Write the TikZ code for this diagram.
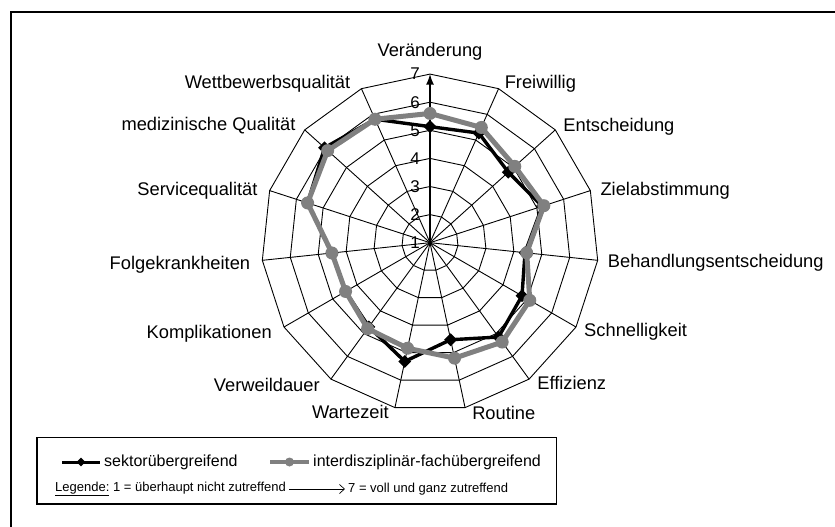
\documentclass[tikz,border=0pt]{standalone}
\usepackage{fontspec}
\setmainfont{Liberation Sans}
\usetikzlibrary{arrows,arrows.meta,calc,shapes.geometric}
\definecolor{grauLinie}{RGB}{128,128,128}

\tikzset{
  gitter/.style={line width=0.9pt},
  achse/.style={line width=2.6pt,-latex},
  reiheS/.style={line width=3.4pt,line join=round},
  reiheG/.style={line width=5pt,grauLinie,line join=round},
  raute/.style={shape=diamond,fill=black,inner sep=0pt,minimum size=13pt},
  punkt/.style={shape=circle,fill=grauLinie,inner sep=0pt,minimum size=13pt},
  kat/.style={inner sep=0pt,font=\fontsize{18.3}{20}\selectfont},
  zahl/.style={inner sep=0pt,font=\fontsize{17}{19}\selectfont},
  leg/.style={inner sep=0pt,font=\fontsize{16}{18}\selectfont},
  legklein/.style={inner sep=3pt,font=\fontsize{13}{15}\selectfont}
}

\begin{document}
\begin{tikzpicture}[x=1pt,y=1pt]
\useasboundingbox (0,0) rectangle (835,-527);
% Rahmen
\draw[line width=2pt] (11,-560) -- (11,-12) -- (870,-12);

\begin{scope}[shift={(430,-242.7)}]
\coordinate (m) at (0,0);
\foreach \i in {0,...,14}
  \coordinate (v\i) at ({90-24*\i}:168.6);
% Netz
\foreach \k in {2,...,7}
  \draw[gitter] (90:{(\k-1)*28.1}) \foreach \i in {1,...,14} { -- ({90-24*\i}:{(\k-1)*28.1}) } -- cycle;
\foreach \i in {1,...,14}
  \draw[gitter] (m) -- (v\i);
\draw[achse] (m) -- (v0);
% Skala
\foreach \k in {1,...,7}
  \node[zahl,anchor=east] (z\k) at (-10,{(\k-1)*28.1}) {\k};

% Werte
\foreach \w [count=\i from 0] in {5.13,5.27,4.75,5.2,4.4,4.78,5.15,4.53,5.32,4.7,4.47,4.51,5.58,6.05,5.81}
  \coordinate (s\i) at ({90-24*\i}:{(\w-1)*28.1});
\foreach \w [count=\i from 0] in {5.6,5.49,5.06,5.26,4.46,5.1,5.37,5.2,4.84,4.78,4.47,4.51,5.58,5.9,5.81}
  \coordinate (g\i) at ({90-24*\i}:{(\w-1)*28.1});

\draw[reiheS] (s0) \foreach \i in {1,...,14} { -- (s\i) } -- cycle;
\foreach \i in {0,...,14}
  \node[raute] (ms\i) at (s\i) {};
\draw[reiheG] (g0) \foreach \i in {1,...,14} { -- (g\i) } -- cycle;
\foreach \i in {0,...,14}
  \node[punkt] (mg\i) at (g\i) {};

% Beschriftung
\foreach \i/\anc/\dx/\dy/\txt in {0/south/0/14/Veränderung, 1/west/6/5/Freiwillig,
    2/west/8/3/Entscheidung, 3/west/10/0/Zielabstimmung, 4/west/10/-2/Behandlungsentscheidung,
    5/west/8/-5/Schnelligkeit, 6/west/8/-4/Effizienz, 7/west/7/-5/Routine,
    8/east/-6/-4/Wartezeit, 9/east/-11/-6/Verweildauer, 10/east/-12/-7/Komplikationen,
    11/east/-12/-4/Folgekrankheiten, 12/east/-12/0/Servicequalität,
    13/east/-9/4/medizinische Qualität, 14/east/-11/5/Wettbewerbsqualität}
  \node[kat,anchor=\anc] (k\i) at ($(v\i)+(\dx,\dy)$) {\txt};
\end{scope}

% Legende
\draw[line width=1.3pt] (37,-437.3) rectangle (556.7,-504);
\coordinate (la1) at (62,-462);
\coordinate (lb1) at (100,-462);
\coordinate (la2) at (270,-462);
\coordinate (lb2) at (309,-462);
\draw[line width=3pt] (la1) -- node[raute,minimum size=10pt]{} (lb1);
\node[leg,anchor=west] (t1) at ($(lb1)+(4,0)$) {sektorübergreifend};
\draw[line width=4pt,grauLinie] (la2) -- node[punkt,minimum size=9pt]{} (lb2);
\node[leg,anchor=west] (t2) at ($(lb2)+(4,0)$) {interdisziplinär-fachübergreifend};
\node[legklein,anchor=west] (lg) at (52,-489) {\underline{Legende:} 1 = überhaupt nicht zutreffend};
\node[legklein,anchor=west] (lz) at (345,-489) {7 = voll und ganz zutreffend};
\draw[-{Straight Barb[length=5pt,width=9pt]},line width=0.7pt] (lg) -- (lz);
\end{tikzpicture}
\end{document}
